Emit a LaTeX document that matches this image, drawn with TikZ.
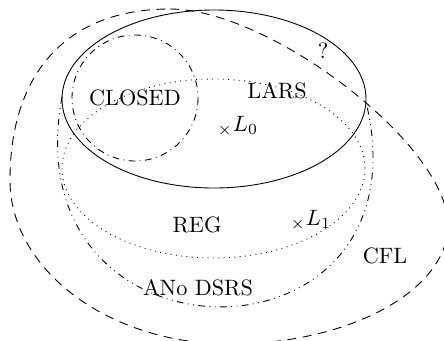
\documentclass[tikz,border=0pt]{standalone}
\begin{document}
\begin{tikzpicture}[x=0.45pt,y=-0.45pt]
\clip (0,0) rectangle (444,340);
% the classes
\draw (214,99) ellipse [x radius=152,y radius=89];
\draw[dash dot] (135,98) circle [radius=63];
\draw[dotted] (213.5,168.5) ellipse [x radius=151.5,y radius=89.5];
\draw[dash dot dot] (62,97) .. controls (10,376) and (432,376) .. (366,102);
\draw[dash pattern=on 4pt off 3pt] (170,9) .. controls (270,9) and (448,145) .. (448,225)
  .. controls (448,290) and (350,344) .. (230,344)
  .. controls (109,344) and (10,270) .. (10,180)
  .. controls (10,75) and (65,9) .. (170,9) -- cycle;
% labels
\node (closed) at (135,98) {CLOSED};
\node (lars) at (277,91) {LARS};
\node (q) at (323,51) {?};
\node (l0) at (238,126) {${}_{\times}L_0$};
\node (reg) at (197,225) {REG};
\node (l1) at (311,220) {${}_{\times}L_1$};
\node (cfl) at (385,256) {CFL};
\node (ano) at (198,288) {ANo DSRS};
\end{tikzpicture}
\end{document}
